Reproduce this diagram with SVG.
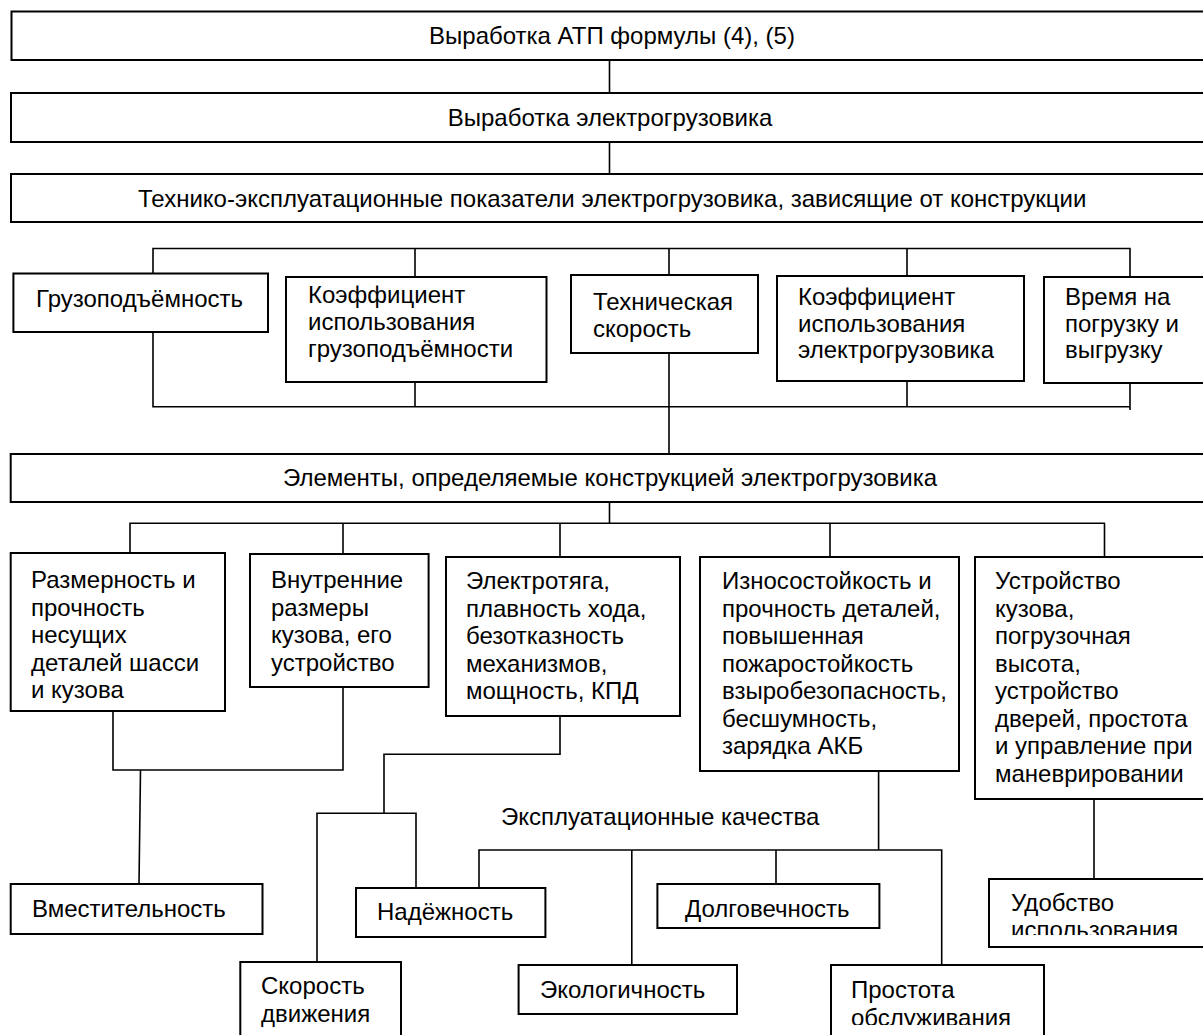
<svg xmlns="http://www.w3.org/2000/svg" width="1203" height="1035" viewBox="0 0 1203 1035">
<defs>
<style>
.box{fill:#fff;stroke:#000;stroke-width:2}
.ln{fill:none;stroke:#000;stroke-width:1.6}
text{font-family:"Liberation Sans",Arial,sans-serif;font-size:24px;fill:#000}
.c{text-anchor:middle}
</style>
<clipPath id="clipUd"><rect x="989" y="879" width="230" height="56"/></clipPath>
<clipPath id="clipPr"><rect x="831" y="965" width="215" height="60"/></clipPath>
</defs>
<rect width="1203" height="1035" fill="#fff"/>

<g id="connectors">
<path class="ln" d="M609.5,60 V93 M609.5,142 V174"/>
<path class="ln" d="M153,273 V248.5 H1130 V277 M415,248.5 V277 M669,248.5 V275 M907,248.5 V276"/>
<path class="ln" d="M153,332 V406.7 H1130 M1130,383 V410 M415,382 V406.7 M907,381 V406.7 M669,353 V454"/>
<path class="ln" d="M609.5,502 V523.3 M130,553 V523.3 H1105 M343,523.3 V554 M560,523.3 V557 M830,523.3 V557 M1104.5,523.3 V557"/>
<path class="ln" d="M113,711 V770 H343 V687 M140.5,770 L139,884"/>
<path class="ln" d="M560,716 V754.3 H384 V813.3 M317,962 V813.3 H416 V888"/>
<path class="ln" d="M878.6,771 V850 M479,888 V850 H941.7 V965 M631.8,850 V965 M776,850 V884"/>
<path class="ln" d="M1094,799 V879"/>
</g>

<g id="n_atp">
<rect class="box" x="11.5" y="11.5" width="1200" height="48.5"/>
<text class="c" x="612" y="43.5">Выработка АТП формулы (4), (5)</text>
</g>
<g id="n_vyrab">
<rect class="box" x="11" y="93" width="1200" height="49"/>
<text class="c" x="610" y="125.5">Выработка электрогрузовика</text>
</g>
<g id="n_tep">
<rect class="box" x="11" y="174" width="1200" height="48"/>
<text x="138" y="207">Технико-эксплуатационные показатели электрогрузовика, зависящие от конструкции</text>
</g>

<g id="n_gruz">
<rect class="box" x="13.4" y="273.5" width="254.6" height="58.5"/>
<text x="36" y="306.5">Грузоподъёмность</text>
</g>
<g id="n_koef1">
<rect class="box" x="286" y="277" width="260.5" height="105"/>
<text x="308" y="303">Коэффициент</text>
<text x="308" y="330">использования</text>
<text x="308" y="357">грузоподъёмности</text>
</g>
<g id="n_tech">
<rect class="box" x="571" y="275" width="187" height="78"/>
<text x="593" y="310">Техническая</text>
<text x="593" y="337">скорость</text>
</g>
<g id="n_koef2">
<rect class="box" x="777" y="276" width="247" height="105"/>
<text x="798" y="305">Коэффициент</text>
<text x="798" y="332">использования</text>
<text x="798" y="358">электрогрузовика</text>
</g>
<g id="n_vremya">
<rect class="box" x="1044" y="277" width="170" height="106"/>
<text x="1065" y="305">Время на</text>
<text x="1065" y="332">погрузку и</text>
<text x="1065" y="358">выгрузку</text>
</g>

<g id="n_elem">
<rect class="box" x="10.7" y="454" width="1205" height="48"/>
<text class="c" x="610" y="486">Элементы, определяемые конструкцией электрогрузовика</text>
</g>

<g id="n_razm">
<rect class="box" x="10.7" y="553" width="214.3" height="158"/>
<text x="31" y="588">Размерность и</text>
<text x="31" y="615.5">прочность</text>
<text x="31" y="643">несущих</text>
<text x="31" y="670.5">деталей шасси</text>
<text x="31" y="698">и кузова</text>
</g>
<g id="n_vnutr">
<rect class="box" x="250" y="554" width="178.6" height="133"/>
<text x="271" y="588">Внутренние</text>
<text x="271" y="615.5">размеры</text>
<text x="271" y="643">кузова, его</text>
<text x="271" y="670.5">устройство</text>
</g>
<g id="n_elektr">
<rect class="box" x="446" y="557" width="234" height="159"/>
<text x="466" y="589">Электротяга,</text>
<text x="466" y="616.5">плавность хода,</text>
<text x="466" y="644">безотказность</text>
<text x="466" y="671.5">механизмов,</text>
<text x="466" y="699">мощность, КПД</text>
</g>
<g id="n_iznos">
<rect class="box" x="700" y="557" width="259" height="214"/>
<text x="722" y="589">Износостойкость и</text>
<text x="722" y="616.5">прочность деталей,</text>
<text x="722" y="644">повышенная</text>
<text x="722" y="671.5">пожаростойкость</text>
<text x="722" y="699">взыробезопасность,</text>
<text x="722" y="726.5">бесшумность,</text>
<text x="722" y="754">зарядка АКБ</text>
</g>
<g id="n_ustr">
<rect class="box" x="975" y="557" width="240" height="242"/>
<text x="995" y="589">Устройство</text>
<text x="995" y="616.5">кузова,</text>
<text x="995" y="644">погрузочная</text>
<text x="995" y="671.5">высота,</text>
<text x="995" y="699">устройство</text>
<text x="995" y="726.5">дверей, простота</text>
<text x="995" y="754">и управление при</text>
<text x="995" y="781.5">маневрировании</text>
</g>

<g id="n_label">
<text x="501" y="825">Эксплуатационные качества</text>
</g>

<g id="n_vmest">
<rect class="box" x="10.7" y="884" width="251.8" height="50"/>
<text x="32" y="917">Вместительность</text>
</g>
<g id="n_nadezh">
<rect class="box" x="356" y="888" width="189.4" height="49"/>
<text x="377" y="920">Надёжность</text>
</g>
<g id="n_dolg">
<rect class="box" x="657.4" y="884" width="222" height="44"/>
<text x="685" y="917">Долговечность</text>
</g>
<g id="n_udob">
<rect class="box" x="989" y="879" width="230" height="68"/>
<g clip-path="url(#clipUd)">
<text x="1011" y="910.5">Удобство</text>
<text x="1011" y="938">использования</text>
</g>
</g>
<g id="n_skor">
<rect class="box" x="240.3" y="962" width="160.7" height="80"/>
<text x="261" y="994">Скорость</text>
<text x="261" y="1022">движения</text>
</g>
<g id="n_ekol">
<rect class="box" x="518.6" y="965" width="218.4" height="49"/>
<text x="540" y="998">Экологичность</text>
</g>
<g id="n_prost">
<rect class="box" x="831" y="965" width="213" height="80"/>
<g clip-path="url(#clipPr)">
<text x="851" y="998">Простота</text>
<text x="851" y="1025.5">обслуживания</text>
</g>
</g>
</svg>
